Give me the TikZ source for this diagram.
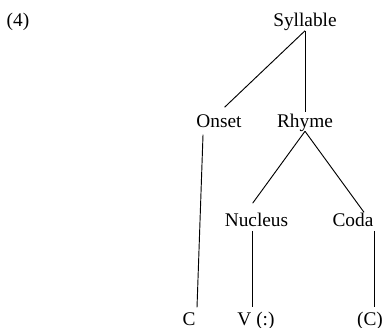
\documentclass[tikz,border=0pt]{standalone}
\usepackage{fontspec}
\setmainfont{Liberation Serif}
\usepackage{tikz}

\begin{document}
\begin{tikzpicture}[
  x=0.75pt, y=-0.75pt,
  lbl/.style={inner sep=0.75pt, text height=0.68em, text depth=0.22em, font=\fontsize{14.5pt}{17pt}\selectfont},
  branch/.style={line width=0.7pt}
]
\useasboundingbox (0,0) rectangle (382,328);
\clip (0,0) rectangle (382,328);
% labels of the tree
\node[lbl] (num) at (18,23.5) {(4)};
\node[lbl] (syl) at (305,23.5) {Syllable};
\node[lbl] (ons) at (219,124) {Onset};
\node[lbl] (rhy) at (305,124) {Rhyme};
\node[lbl] (nuc) at (256.5,223.5) {Nucleus};
\node[lbl] (coda) at (353,223.5) {Coda};
\node[lbl] (c1) at (189,322.5) {C};
\node[lbl] (v) at (256,322.5) {V (:)};
\node[lbl] (c2) at (370,322.5) {(C)};

% branches
\draw[branch, shorten >=10.4pt] (syl.south) -- ([xshift=-3.3pt]ons.north);
\draw[branch, shorten >=3.2pt] (syl.south) -- (rhy.north);
\draw[branch, shorten <=2.5pt, shorten >=5.9pt] ([xshift=-11.9pt]ons.south) -- ([xshift=5.8pt]c1.north);
\draw[branch, shorten >=12.1pt] (rhy.south) -- ([xshift=-10pt]nuc.north);
\draw[branch, shorten >=3.6pt] (rhy.south) -- ([xshift=10.4pt]coda.north);
\draw[branch, shorten >=5.9pt] ([xshift=-3pt]nuc.south) -- ([xshift=-3pt]nuc.south |- v.north);
\draw[branch, shorten >=5.9pt] ([xshift=16pt]coda.south) -- ([xshift=16pt]coda.south |- c2.north);
\end{tikzpicture}
\end{document}
